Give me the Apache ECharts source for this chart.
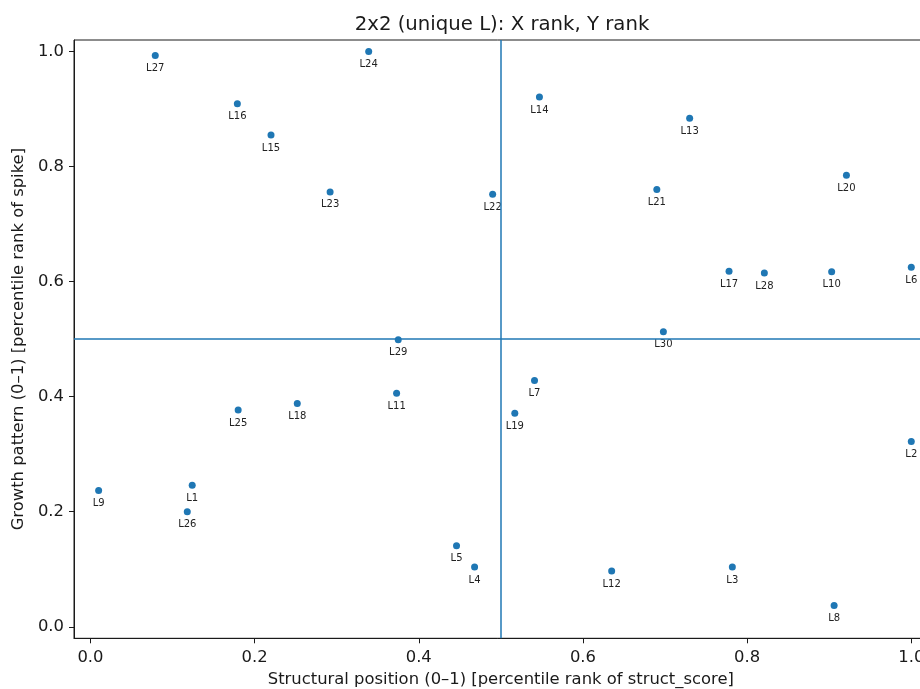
<!DOCTYPE html>
<html>
<head>
<meta charset="utf-8">
<script src="https://cdn.jsdelivr.net/npm/echarts@6/dist/echarts.min.js"></script>
<style>html,body{margin:0;padding:0;background:#fff;}#c{width:920px;height:689px;}</style>
</head>
<body>
<div id="c"></div>
<script>
const labels = ['L1','L2','L3','L4','L5','L6','L7','L8','L9','L10','L11','L12','L13','L14','L15','L16','L17','L18','L19','L20','L21','L22','L23','L24','L25','L26','L27','L28','L29','L30'];
const xRank = [0.124,1.000,0.782,0.468,0.446,1.000,0.541,0.906,0.010,0.903,0.373,0.635,0.730,0.547,0.220,0.179,0.778,0.252,0.517,0.921,0.690,0.490,0.292,0.339,0.180,0.118,0.079,0.821,0.375,0.698];
const yRank = [0.246,0.322,0.104,0.104,0.141,0.625,0.428,0.037,0.237,0.617,0.406,0.097,0.884,0.921,0.855,0.909,0.618,0.388,0.371,0.785,0.760,0.752,0.756,1.000,0.377,0.200,0.993,0.615,0.499,0.513];
const xTicks = [0.0,0.2,0.4,0.6,0.8,1.0];
const yTicks = [0.0,0.2,0.4,0.6,0.8,1.0];
const xSplit = 0.5;
const ySplit = 0.5;

const FONT = 'DejaVu Sans';
const chart = echarts.init(document.getElementById('c'), null, {renderer:'canvas'});
const pts = labels.map((l,i)=>({value:[xRank[i], yRank[i]], name:l}));
const axisCommon = {
  type:'value', min:-0.02, max:1.02,
  splitLine:{show:false},
  axisLine:{show:true, onZero:false, lineStyle:{color:'#1a1a1a', width:1}},
  nameLocation:'middle',
  nameTextStyle:{fontFamily:FONT, fontSize:16.4, color:'#1a1a1a'}
};
chart.setOption({
  animation:false,
  backgroundColor:'#fff',
  title:{text:'2x2 (unique L): X rank, Y rank', left:497, top:10, textAlign:'center',
    textStyle:{fontFamily:FONT, fontSize:19.7, fontWeight:'normal', color:'#1a1a1a'}},
  grid:{left:74, top:40, right:-7.7, bottom:50.7, show:true, borderColor:'#1a1a1a', borderWidth:1, outerBoundsMode:'none'},
  xAxis:Object.assign({}, axisCommon, {
    name:'Structural position (0\u20131) [percentile rank of struct_score]', nameGap:33,
    axisTick:{show:true, length:5, customValues:xTicks, lineStyle:{color:'#1a1a1a'}},
    axisLabel:{customValues:xTicks, formatter:v=>v.toFixed(1), fontFamily:FONT, fontSize:16.4, color:'#1a1a1a', margin:11}
  }),
  yAxis:Object.assign({}, axisCommon, {
    name:'Growth pattern (0\u20131) [percentile rank of spike]', nameGap:47,
    axisTick:{show:true, length:5, customValues:yTicks, lineStyle:{color:'#1a1a1a'}},
    axisLabel:{customValues:yTicks, formatter:v=>v.toFixed(1), fontFamily:FONT, fontSize:16.4, color:'#1a1a1a', margin:10}
  }),
  series:[{
    type:'scatter', data:pts, symbolSize:7,
    itemStyle:{color:'#1f77b4', opacity:1},
    label:{show:true, position:'bottom', distance:4.5, formatter:p=>p.name, fontFamily:FONT, fontSize:10, color:'#222'},
    markLine:{silent:true, symbol:['none','none'], label:{show:false},
      lineStyle:{color:'#1f77b4', width:1.5, type:'solid', opacity:1},
      data:[{xAxis:xSplit},{yAxis:ySplit}]}
  }]
});
</script>
</body>
</html>
